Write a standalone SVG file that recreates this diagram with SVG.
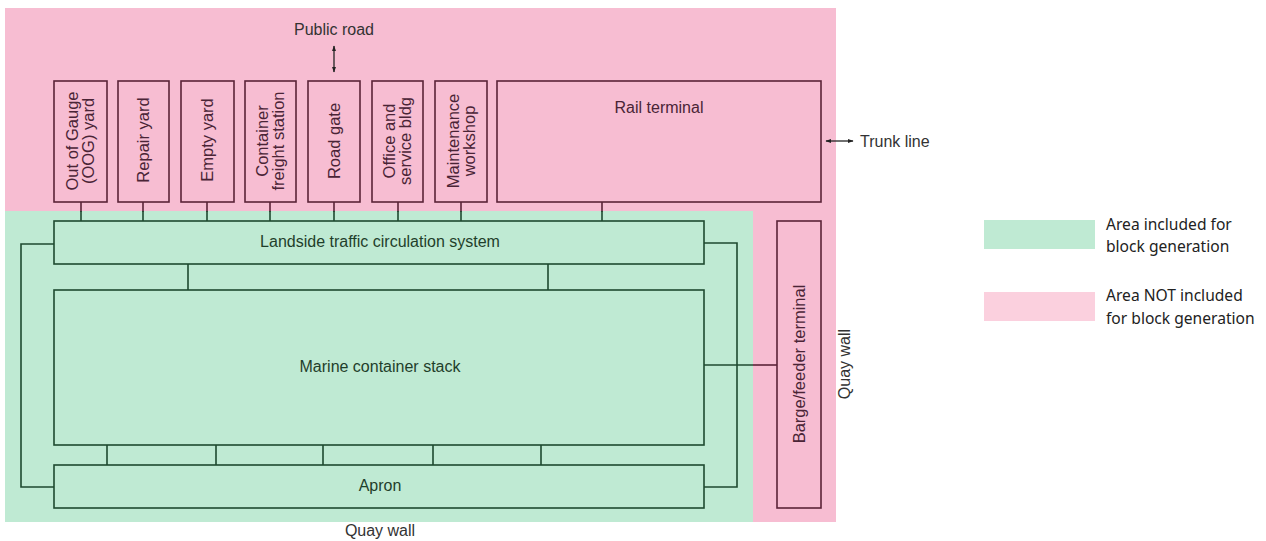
<svg xmlns="http://www.w3.org/2000/svg" width="1266" height="541" viewBox="0 0 1266 541">
<defs>
<style>
.t{font-family:"Liberation Sans",Arial,sans-serif;font-size:16px;}
.r{font-size:16.5px;}
.pt{fill:#4a2436;}
.gt{fill:#1f3f2b;}
.pb{fill:none;stroke:#5a2338;stroke-width:1.6;}
.gb{fill:none;stroke:#1f4a30;stroke-width:1.6;}
.pl{fill:none;stroke:#5a2338;stroke-width:1.6;}
.gl{fill:none;stroke:#1f4a30;stroke-width:1.6;}
.lg{font-family:"Noto Sans","Liberation Sans",sans-serif;font-size:15.6px;fill:#222;}
.ar{stroke:#222;stroke-width:1.3;fill:none;}
</style>
<marker id="ah" viewBox="0 0 10 10" refX="9" refY="5" markerWidth="6" markerHeight="6" orient="auto-start-reverse" markerUnits="userSpaceOnUse">
<path d="M0,1.5 L10,5 L0,8.5 Z" fill="#222"/>
</marker>
</defs>
<rect width="1266" height="541" fill="#ffffff"/>
<!-- areas -->
<rect id="area-pink" x="5" y="8" width="831" height="514" fill="#f7bdd2"/>
<rect id="area-green" x="5" y="211" width="748" height="311" fill="#bfead3"/>

<!-- connectors -->
<g id="connectors">
<path class="pl" d="M81,202V212 M143,202V212 M207,202V212 M270,202V212 M334,202V212 M398,202V212 M461,202V212 M602,202V212"/>
<path class="gl" d="M81,211V221 M143,211V221 M207,211V221 M270,211V221 M334,211V221 M398,211V221 M461,211V221 M602,211V221"/>
<path class="gl" d="M54,244H21V487H54"/>
<path class="gl" d="M704,243H737V487H704"/>
<path class="gl" d="M188,264V290 M548,264V290"/>
<path class="gl" d="M107,445V465 M216,445V465 M323,445V465 M433,445V465 M541,445V465"/>
<path class="gl" d="M704,365H753"/>
<path class="pl" d="M753,365H777"/>
<line class="ar" x1="334" y1="46" x2="334" y2="72" marker-start="url(#ah)" marker-end="url(#ah)"/>
<line class="ar" x1="826" y1="141" x2="853" y2="141" marker-start="url(#ah)" marker-end="url(#ah)"/>
</g>

<!-- top nodes -->
<g id="n-oog"><rect class="pb" x="54" y="81" width="53" height="121"/>
<text class="t r pt" text-anchor="middle" transform="translate(80.5,141) rotate(-90)"><tspan x="0" y="-2.5">Out of Gauge</tspan><tspan x="0" y="13.5">(OOG) yard</tspan></text></g>
<g id="n-repair"><rect class="pb" x="118" y="81" width="51" height="121"/>
<text class="t r pt" text-anchor="middle" transform="translate(143.5,140) rotate(-90)" y="5.5">Repair yard</text></g>
<g id="n-empty"><rect class="pb" x="181" y="81" width="53" height="121"/>
<text class="t r pt" text-anchor="middle" transform="translate(207.5,140) rotate(-90)" y="5.5">Empty yard</text></g>
<g id="n-cfs"><rect class="pb" x="245" y="81" width="51" height="121"/>
<text class="t r pt" text-anchor="middle" transform="translate(270.5,141) rotate(-90)"><tspan x="0" y="-2.5">Container</tspan><tspan x="0" y="13.5">freight station</tspan></text></g>
<g id="n-gate"><rect class="pb" x="308" y="81" width="52" height="121"/>
<text class="t r pt" text-anchor="middle" transform="translate(334,141) rotate(-90)" y="5.5">Road gate</text></g>
<g id="n-office"><rect class="pb" x="372" y="81" width="51" height="121"/>
<text class="t r pt" text-anchor="middle" transform="translate(397.5,141) rotate(-90)"><tspan x="0" y="-2.5">Office and</tspan><tspan x="0" y="13.5">service bldg</tspan></text></g>
<g id="n-maint"><rect class="pb" x="435" y="81" width="52" height="121"/>
<text class="t r pt" text-anchor="middle" transform="translate(461,141) rotate(-90)"><tspan x="0" y="-2.5">Maintenance</tspan><tspan x="0" y="13.5">workshop</tspan></text></g>
<g id="n-rail"><rect class="pb" x="497" y="81" width="324" height="121"/>
<text class="t pt" text-anchor="middle" x="659" y="113">Rail terminal</text></g>

<!-- green nodes -->
<g id="n-landside"><rect class="gb" x="54" y="221" width="650" height="43"/>
<text class="t gt" text-anchor="middle" x="380" y="247">Landside traffic circulation system</text></g>
<g id="n-stack"><rect class="gb" x="54" y="290" width="650" height="155"/>
<text class="t gt" text-anchor="middle" x="380" y="372">Marine container stack</text></g>
<g id="n-apron"><rect class="gb" x="54" y="465" width="650" height="43"/>
<text class="t gt" text-anchor="middle" x="380" y="491">Apron</text></g>
<g id="n-barge"><rect class="pb" x="777" y="221" width="44" height="287"/>
<text class="t r pt" text-anchor="middle" transform="translate(799,364) rotate(-90)" y="5.5">Barge/feeder terminal</text></g>

<!-- labels -->
<text class="t" fill="#333" text-anchor="middle" x="334" y="35">Public road</text>
<text class="t" fill="#333" x="860" y="147">Trunk line</text>
<text class="t" fill="#333" text-anchor="middle" x="380" y="536">Quay wall</text>
<text class="t" fill="#333" text-anchor="middle" transform="translate(844,364) rotate(-90)" y="5.5">Quay wall</text>

<!-- legend -->
<g id="legend">
<rect x="984" y="220" width="111" height="29" fill="#bfead3"/>
<rect x="984" y="292" width="111" height="29" fill="#fbd0de"/>
<text class="lg" x="1106" y="230">Area included for</text>
<text class="lg" x="1106" y="252">block generation</text>
<text class="lg" x="1106" y="301">Area NOT included</text>
<text class="lg" x="1106" y="324">for block generation</text>
</g>
</svg>
